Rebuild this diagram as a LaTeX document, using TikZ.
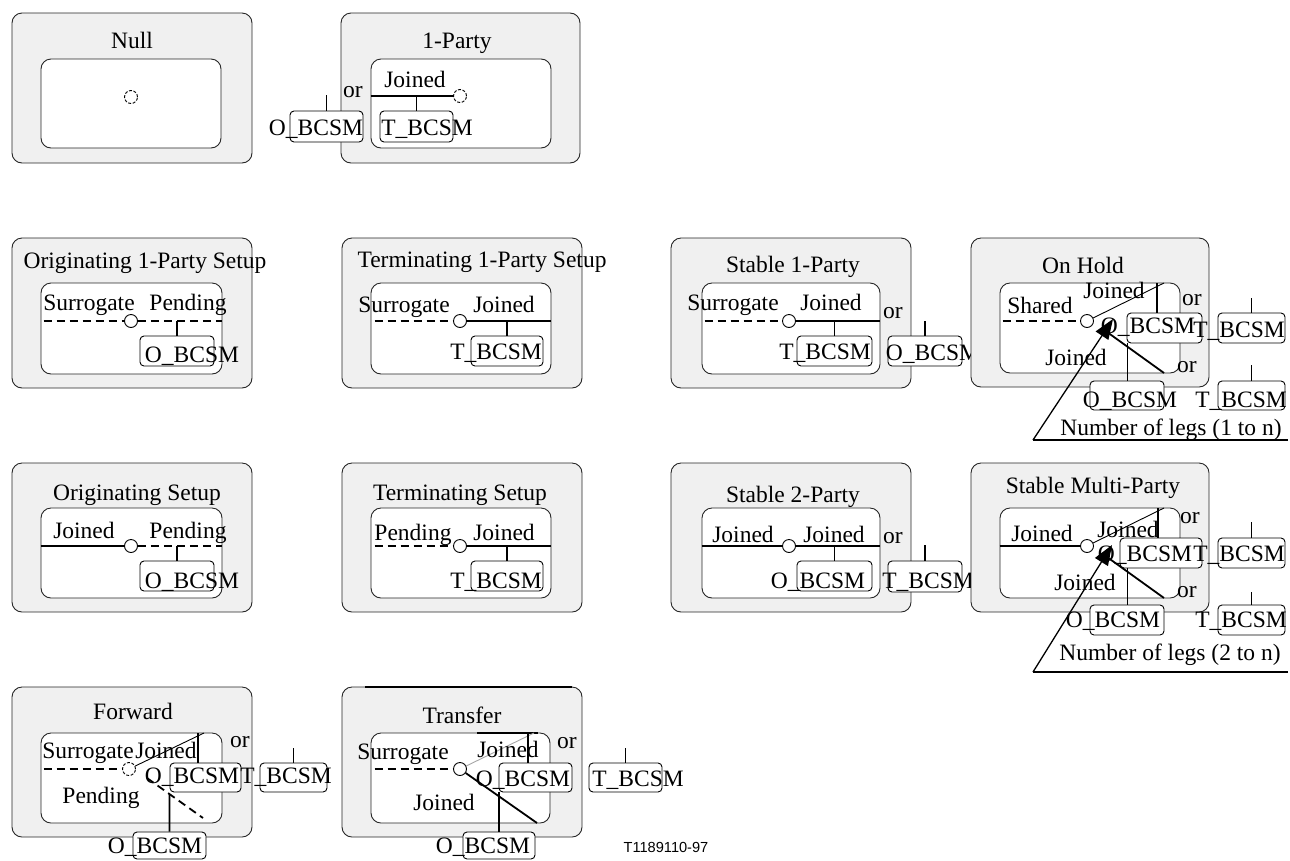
\documentclass[tikz,border=0pt]{standalone}
\usepackage{fontspec}
\setmainfont{Liberation Serif}
\newfontfamily\figsans{Liberation Sans}
\usetikzlibrary{arrows.meta}
\definecolor{boxgray}{RGB}{240,240,240}
\newcommand\mkbox[6]{%
  \pgfmathsetmacro\mkW{#5-#3}\pgfmathsetmacro\mkH{#6-#4}%
  \pgfmathsetmacro\mkX{(#3+#5)/2}\pgfmathsetmacro\mkY{(#4+#6)/2}%
  \node[#2, minimum width=\mkW pt, minimum height=\mkH pt] (#1) at (\mkX,\mkY) {};}
\tikzset{
  outer/.style={draw=black!85, fill=boxgray, rounded corners=10pt, line width=0.9pt, inner sep=0pt},
  inner/.style={draw=black!85, fill=white, rounded corners=10pt, line width=0.9pt, inner sep=0pt},
  bx/.style={draw=black, fill=white, rounded corners=4pt, line width=0.9pt, inner sep=0pt},
  lbl/.style={anchor=base, inner sep=0pt},
  st/.style={circle, draw, fill=white, minimum size=13pt, inner sep=0pt, line width=0.9pt},
  brk/.style={dash pattern=on 3pt off 1.6pt},
  solidl/.style={line width=1.8pt},
  dashl/.style={line width=1.8pt, dash pattern=on 8pt off 5pt},
  tick/.style={line width=1.8pt},
  thinl/.style={line width=0.9pt},
  legl/.style={line width=1.3pt},
  legarrow/.style={line width=1.3pt, -{Triangle[length=20pt,width=15pt]}},
}
\begin{document}
\begin{tikzpicture}[x=1pt,y=-1pt,font=\fontsize{23.5pt}{28pt}\selectfont]
\useasboundingbox (0,0) rectangle (1290,860);

% ---------------- Null
\mkbox{nullO}{outer}{12}{13}{252}{163}
\mkbox{nullI}{inner}{41}{59}{221}{148}
\node[st,brk] (cNull) at (131,97) {};
\node[lbl] (tNull) at (132,48) {Null};

% ---------------- 1-Party
\mkbox{oneO}{outer}{341}{13}{580}{163}
\mkbox{oneI}{inner}{371}{59}{551}{148}
\node[st,brk] (cOne) at (460,96) {};
\draw[solidl] (oneI.west |- cOne) -- (cOne.west);
\mkbox{oneT}{bx}{380}{111}{453}{142}
\draw[tick] (oneT.north) -- (oneT.north |- cOne);
\mkbox{oneOb}{bx}{290}{111}{363}{142}
\draw[tick] (oneOb.north) -- ++(0,-16);
\node[lbl] (tOne) at (457,48) {1-Party};
\node[lbl] (oneJ) at (415,87) {Joined};
\node[lbl] (oneOr) at (353,97) {or};
\node[lbl] (oneTl) at (427,135) {T\_BCSM};
\node[lbl] (oneOl) at (316,135) {O\_BCSM};

% ---------------- Originating 1-Party Setup
\mkbox{ooO}{outer}{12}{238}{252}{388}
\mkbox{ooI}{inner}{41}{283}{222}{374}
\node[st] (cOo) at (131,321) {};
\draw[dashl] (ooI.west |- cOo) ++(3,0) -- (cOo.west);
\draw[dashl] (cOo.east) -- (ooI.east |- cOo);
\mkbox{ooB}{bx}{140}{336}{214}{366}
\draw[tick] (ooB.north) -- (ooB.north |- cOo);
\node[lbl] (tOo) at (145,268) {Originating 1-Party Setup};
\node[lbl] (ooS) at (89,310) {Surrogate};
\node[lbl] (ooP) at (188,310) {Pending};
\node[lbl] (ooBl) at (192,362) {O\_BCSM};

% ---------------- Terminating 1-Party Setup
\mkbox{toO}{outer}{342}{238}{582}{388}
\mkbox{toI}{inner}{371}{283}{551}{374}
\node[st] (cTo) at (460,321) {};
\draw[dashl] (toI.west |- cTo) ++(4,0) -- (cTo.west);
\draw[solidl] (cTo.east) -- (toI.east |- cTo);
\mkbox{toB}{bx}{471}{336}{543}{366}
\draw[tick] (toB.north) -- (toB.north |- cTo);
\node[lbl] (tTo) at (482,267) {Terminating 1-Party Setup};
\node[lbl] (toS) at (404,312) {Surrogate};
\node[lbl] (toJ) at (504,312) {Joined};
\node[lbl] (toBl) at (496,359) {T\_BCSM};

% ---------------- Stable 1-Party
\mkbox{s1O}{outer}{671}{238}{911}{388}
\mkbox{s1I}{inner}{702}{283}{880}{374}
\node[st] (cS1) at (789,321) {};
\draw[dashl] (s1I.west |- cS1) ++(3,0) -- (cS1.west);
\draw[solidl] (cS1.east) -- (s1I.east |- cS1);
\mkbox{s1T}{bx}{797}{336}{872}{366}
\draw[tick] (s1T.north) -- (s1T.north |- cS1);
\mkbox{s1Ob}{bx}{888}{336}{962}{366}
\draw[tick] (s1Ob.north) -- ++(0,-15);
\node[lbl] (tS1) at (793,272) {Stable 1-Party};
\node[lbl] (s1S) at (733,310) {Surrogate};
\node[lbl] (s1J) at (831,310) {Joined};
\node[lbl] (s1Or) at (893,318) {or};
\node[lbl] (s1Tl) at (825,359) {T\_BCSM};
\node[lbl] (s1Ol) at (933,360) {O\_BCSM};

% ---------------- On Hold
\mkbox{ohO}{outer}{971}{238}{1209}{387}
\mkbox{ohI}{inner}{1000}{283}{1180}{373}
\node[st] (cOh) at (1087,321) {};
\draw[dashl] (ohI.west |- cOh) ++(3,0) -- (cOh.west);
\coordinate (ohC) at (1164,283);
\draw[thinl] (cOh) -- (ohC);
\mkbox{ohOb}{bx}{1127}{313}{1202}{343}
\coordinate (ohK) at (1157,283);
\draw[tick] (ohK) -- (ohK |- ohOb.north);
\mkbox{ohTb}{bx}{1218}{313}{1285}{343}
\draw[tick] (ohTb.north) -- ++(0,-15);
\mkbox{ohOb2}{bx}{1090}{381}{1164}{410}
\draw[thinl] (ohOb2.north) -- (ohOb2.north |- ohOb.south);
\mkbox{ohTb2}{bx}{1218}{381}{1285}{410}
\draw[tick] (ohTb2.north) -- ++(0,-16);
\node[lbl] (tOh) at (1083,273) {On Hold};
\node[lbl] (ohSh) at (1040,313) {Shared};
\node[lbl] (ohJ1) at (1114,298) {Joined};
\node[lbl] (ohOr1) at (1192,305) {or};
\node[lbl] (ohOl) at (1148,333) {O\_BCSM};
\node[lbl] (ohTl) at (1239,337) {T\_BCSM};
\node[lbl] (ohJ2) at (1076,365) {Joined};
\node[lbl] (ohOr2) at (1187,372) {or};
\node[lbl] (ohOl2) at (1130,407) {O\_BCSM};
\node[lbl] (ohTl2) at (1241,407) {T\_BCSM};
\node[lbl] (ohN) at (1171,435) {Number of legs (1 to n)};
\coordinate (ohA) at (1033,440);
\coordinate (ohE) at (1288,440);
\coordinate (ohTip) at (1113,319);
\coordinate (ohR) at (1164,373);
\coordinate (ohRe) at (1107,332);
\draw[legl] (ohA) -- (ohE);
\draw[legarrow] (ohA) -- (ohTip);
\draw[line width=1.8pt] (ohR) -- (ohRe);

% ---------------- Originating Setup
\mkbox{osO}{outer}{12}{463}{252}{612}
\mkbox{osI}{inner}{41}{508}{222}{598}
\node[st] (cOs) at (131,546) {};
\draw[solidl] (osI.west |- cOs) -- (cOs.west);
\draw[dashl] (cOs.east) -- (osI.east |- cOs);
\mkbox{osB}{bx}{140}{561}{214}{591}
\draw[tick] (osB.north) -- (osB.north |- cOs);
\node[lbl] (tOs) at (137,500) {Originating Setup};
\node[lbl] (osJ) at (84,538) {Joined};
\node[lbl] (osP) at (188,538) {Pending};
\node[lbl] (osBl) at (192,588) {O\_BCSM};

% ---------------- Terminating Setup
\mkbox{tsO}{outer}{342}{463}{582}{612}
\mkbox{tsI}{inner}{371}{508}{551}{598}
\node[st] (cTs) at (460,546) {};
\draw[dashl] (tsI.west |- cTs) ++(4,0) -- (cTs.west);
\draw[solidl] (cTs.east) -- (tsI.east |- cTs);
\mkbox{tsB}{bx}{471}{561}{543}{591}
\draw[tick] (tsB.north) -- (tsB.north |- cTs);
\node[lbl] (tTs) at (460,500) {Terminating Setup};
\node[lbl] (tsP) at (413,540) {Pending};
\node[lbl] (tsJ) at (504,540) {Joined};
\node[lbl] (tsBl) at (496,588) {T\_BCSM};

% ---------------- Stable 2-Party
\mkbox{s2O}{outer}{671}{463}{911}{612}
\mkbox{s2I}{inner}{702}{508}{880}{598}
\node[st] (cS2) at (789,546) {};
\draw[solidl] (s2I.west |- cS2) -- (cS2.west);
\draw[solidl] (cS2.east) -- (s2I.east |- cS2);
\mkbox{s2Ob}{bx}{797}{561}{872}{591}
\draw[tick] (s2Ob.north) -- (s2Ob.north |- cS2);
\mkbox{s2Tb}{bx}{888}{561}{962}{592}
\draw[tick] (s2Tb.north) -- ++(0,-16);
\node[lbl] (tS2) at (793,502) {Stable 2-Party};
\node[lbl] (s2J1) at (743,542) {Joined};
\node[lbl] (s2J2) at (834,542) {Joined};
\node[lbl] (s2Or) at (893,543) {or};
\node[lbl] (s2Ol) at (818,588) {O\_BCSM};
\node[lbl] (s2Tl) at (928,588) {T\_BCSM};

% ---------------- Stable Multi-Party
\mkbox{smO}{outer}{971}{463}{1209}{612}
\mkbox{smI}{inner}{1000}{508}{1180}{598}
\node[st] (cSm) at (1087,546) {};
\draw[solidl] (smI.west |- cSm) -- (cSm.west);
\coordinate (smC) at (1164,508);
\draw[thinl] (cSm) -- (smC);
\mkbox{smOb}{bx}{1120}{538}{1202}{568}
\coordinate (smK) at (1158,508);
\draw[tick] (smK) -- (smK |- smOb.north);
\mkbox{smTb}{bx}{1218}{538}{1285}{568}
\draw[tick] (smTb.north) -- ++(0,-16);
\mkbox{smOb2}{bx}{1090}{605}{1164}{635}
\draw[thinl] (smOb2.north) -- (smOb2.north |- smOb.south);
\mkbox{smTb2}{bx}{1218}{605}{1285}{635}
\draw[tick] (smTb2.north) -- ++(0,-13);
\node[lbl] (tSm) at (1093,493) {Stable Multi-Party};
\node[lbl] (smJ0) at (1042,541) {Joined};
\node[lbl] (smJ1) at (1128,537) {Joined};
\node[lbl] (smOr1) at (1190,523) {or};
\node[lbl] (smOl) at (1145,561) {O\_BCSM};
\node[lbl] (smTl) at (1239,561) {T\_BCSM};
\node[lbl] (smJ2) at (1085,590) {Joined};
\node[lbl] (smOr2) at (1187,597) {or};
\node[lbl] (smOl2) at (1113,627) {O\_BCSM};
\node[lbl] (smTl2) at (1241,627) {T\_BCSM};
\node[lbl] (smN) at (1170,660) {Number of legs (2 to n)};
\coordinate (smA) at (1033,672);
\coordinate (smE) at (1288,672);
\coordinate (smTip) at (1112,545);
\coordinate (smR) at (1164,598);
\coordinate (smRe) at (1107,557);
\draw[legl] (smA) -- (smE);
\draw[legarrow] (smA) -- (smTip);
\draw[line width=1.8pt] (smR) -- (smRe);

% ---------------- Forward
\mkbox{fwO}{outer}{12}{687}{252}{837}
\mkbox{fwI}{inner}{41}{733}{222}{823}
\node[st,brk] (cFw) at (129,769) {};
\draw[dashl] (fwI.west |- cFw) ++(3,0) -- (cFw.west);
\coordinate (fwC) at (204,733);
\draw[thinl] (cFw) -- (fwC);
\mkbox{fwOb}{bx}{170}{763}{241}{792}
\coordinate (fwK) at (198,733);
\draw[tick] (fwK) -- (fwK |- fwOb.north);
\mkbox{fwTb}{bx}{260}{763}{327}{792}
\draw[tick] (fwTb.north) -- ++(0,-15);
\coordinate (fwD1) at (147,778);
\coordinate (fwD2) at (203,818);
\draw[dashl] (fwD1) -- (fwD2);
\mkbox{fwOb2}{bx}{133}{832}{206}{859}
\draw[tick] (fwOb2.north) -- (intersection of fwD1--fwD2 and fwOb2.north--fwOb2.south);
\node[lbl] (tFw) at (133,719) {Forward};
\node[lbl] (fwS) at (88,758) {Surrogate};
\node[lbl] (fwJ) at (166,758) {Joined};
\node[lbl] (fwOr) at (240,747) {or};
\node[lbl] (fwOl) at (192,783) {O\_BCSM};
\node[lbl] (fwTl) at (286,783) {T\_BCSM};
\node[lbl] (fwP) at (101,803) {Pending};
\node[lbl] (fwOl2) at (155,853) {O\_BCSM};

% ---------------- Transfer
\mkbox{trO}{outer}{342}{687}{582}{837}
\draw[line width=1.8pt] (365,687) -- (572,687);
\mkbox{trI}{inner}{371}{733}{550}{823}
\draw[line width=1.8pt] (477,733) -- (538,733);
\node[st] (cTr) at (460,769) {};
\draw[dashl] (trI.west |- cTr) ++(4,0) -- (cTr.west);
\coordinate (trC) at (534,733);
\draw[thinl, black!35] (cTr) -- (trC);
\mkbox{trOb}{bx}{499}{763}{572}{792}
\coordinate (trK) at (528,733);
\draw[tick] (trK) -- (trK |- trOb.north);
\mkbox{trTb}{bx}{589}{763}{662}{792}
\draw[tick] (trTb.north) -- ++(0,-15);
\coordinate (trD2) at (537,823);
\draw[solidl] (cTr) -- (trD2);
\mkbox{trOb2}{bx}{463}{832}{535}{859}
\draw[tick] (trOb2.north) -- (trOb2.north |- trOb.south);
\node[lbl] (tTr) at (462,723) {Transfer};
\node[lbl] (trS) at (403,759) {Surrogate};
\node[lbl] (trJ) at (508,757) {Joined};
\node[lbl] (trOr) at (567,748) {or};
\node[lbl] (trOl) at (523,786) {O\_BCSM};
\node[lbl] (trTl) at (638,786) {T\_BCSM};
\node[lbl] (trJ2) at (444,810) {Joined};
\node[lbl] (trOl2) at (483,853) {O\_BCSM};

\node[lbl, font=\figsans\fontsize{14.6pt}{17pt}\selectfont] (fig) at (666,852) {T1189110-97};
\end{tikzpicture}
\end{document}
